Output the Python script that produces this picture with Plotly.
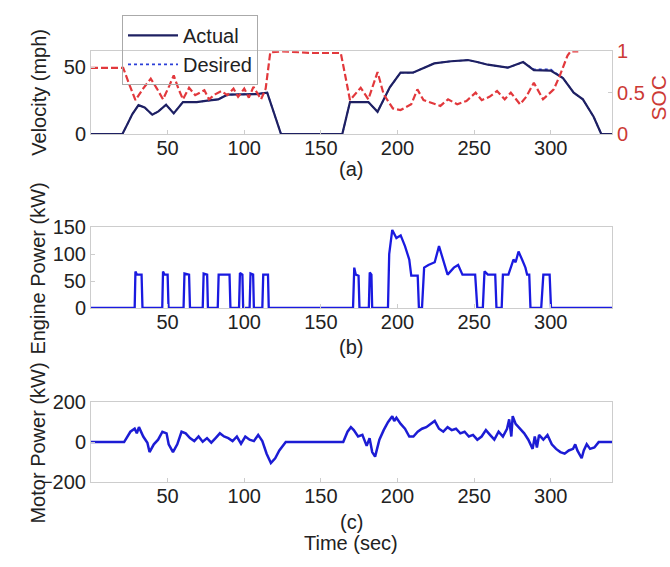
import plotly.graph_objects as go

# ---------------- data ----------------
vel_t = [0, 20.5, 24, 27, 31, 35, 40, 44, 49, 54, 60, 69, 76, 83, 89, 100, 108, 115, 124,
         164, 169, 181, 187, 195, 202, 210, 216, 224, 235, 246, 252, 259, 272, 282, 289,
         300, 308, 315, 321, 328, 333, 340]
vel_actual = [0, 0, 8, 15, 21.7, 20, 14.5, 17, 22, 15.5, 24, 24, 25, 26, 29.5, 29.5, 30, 31, 0,
              0, 24, 24, 16.7, 35, 46, 46, 49, 53, 54.6, 55.5, 54, 52, 49.8, 54, 48,
              47.6, 42, 31, 26, 13, 0, 0]
vel_desired = [0, 0, 8, 15, 21.7, 20, 14.5, 17, 22, 15.5, 24, 24, 25, 26, 29.5, 29.5, 30, 31, 0,
               0, 24, 24, 16.7, 35, 46, 46, 49, 53, 54.6, 55.5, 54, 52, 49.8, 54, 48.5,
               48.5, 42, 31, 26, 13, 0, 0]

soc_t = [0, 21, 25, 29, 34, 39, 43, 47, 51, 54, 57, 60, 64, 68, 74, 77, 81, 85, 89, 93, 96,
         100, 103, 106, 111, 114, 117, 125, 145, 163, 166, 169, 176, 181, 187, 191, 197,
         202, 209, 213, 217, 224, 228, 233, 239, 245, 251, 255, 260, 265, 270, 274, 280,
         284, 289, 295, 302, 306, 311, 313, 318]
soc = [0.8, 0.8, 0.6, 0.41, 0.55, 0.67, 0.55, 0.42, 0.58, 0.71, 0.55, 0.42, 0.56, 0.47, 0.53,
       0.42, 0.48, 0.52, 0.47, 0.55, 0.45, 0.55, 0.44, 0.57, 0.42, 0.55, 0.99, 1.0, 0.98, 0.98,
       0.7, 0.41, 0.56, 0.42, 0.75, 0.48, 0.31, 0.29, 0.36, 0.54, 0.41, 0.36, 0.34, 0.42,
       0.36, 0.4, 0.5, 0.41, 0.45, 0.52, 0.42, 0.5, 0.36, 0.45, 0.62, 0.42, 0.54, 0.71,
       0.95, 1.0, 1.0]

eng_t = [0, 28.5, 29, 30, 33, 33.6,
         46.5, 47, 48, 50, 50.6,
         60.4, 61, 64, 64.6,
         72.9, 73.5, 75.8, 76.3,
         82.7, 83.3, 90.4, 91,
         96.6, 97.2, 98.8, 99.3,
         103.5, 104.1, 105.8, 106.3,
         111.8, 112.4, 115.5, 116,
         171, 171.8, 172.8, 174.6, 175.2,
         181.3, 181.9, 183, 183.5,
         193.8, 194.6, 196.6, 199.3, 202.1, 204.9, 207.7, 209, 213.2, 214, 216, 217.4,
         220.2, 224.3, 227.1, 229.9, 232.7, 236.8, 239.6, 242.4, 250.7, 252.1, 255.7,
         256.8, 259, 263.8, 264.6, 268, 268.8, 272.4, 275.7, 277.1, 279, 281.3, 283.5,
         284.6, 286, 286.8, 293.8, 295.2, 299.3, 300.2, 340]
eng_p = [0, 0, 68, 62, 62, 0,
         0, 68, 62, 62, 0,
         0, 64, 62, 0,
         0, 64, 62, 0,
         0, 62, 62, 0,
         0, 65, 62, 0,
         0, 64, 62, 0,
         0, 62, 62, 0,
         0, 75, 62, 60, 0,
         0, 66, 62, 0,
         0, 100, 145, 130, 135, 115, 90, 60, 60, 0, 0, 75,
         80, 85, 115, 90, 62, 75, 80, 62, 62, 0, 0,
         68, 62, 62, 0, 0, 62, 62, 90, 85, 105, 90, 75,
         62, 62, 0, 0, 62, 62, 0, 0]

mot_t = [0, 21.6, 25.7, 28.5, 29.9, 31.3, 34.1, 36.8, 38.2, 41, 43.8, 46.6, 49.3, 50.7, 53.5,
         56.3, 59.1, 61.8, 64.6, 67.4, 70.2, 72.9, 75.7, 78.5, 81.3, 84.1, 86.8, 89.6, 92.4,
         95.2, 97.9, 100.7, 103.5, 106.3, 109.1, 111.8, 114.6, 117.4, 120.2, 122.9, 127.1,
         164.6, 167.4, 169.6, 171.5, 174.3, 177.1, 179.9, 181.8, 183.5, 185.4, 186.8, 188.2,
         191, 193.8, 196.6, 197.9, 199.3, 202.1, 204.9, 207.7, 210.4, 213.2, 216, 218.8,
         221.6, 224.3, 227.1, 229.9, 232.7, 235.4, 238.2, 241, 243.8, 246.6, 249.3, 252.1,
         254.9, 257.7, 260.4, 263.2, 266, 268.8, 271.5, 272.9, 274.3, 275.2, 277.1, 279.9,
         282.7, 285.4, 288.2, 289.6, 291, 292.4, 295.2, 297.9, 300.7, 303.5, 306.3, 309.1,
         311.8, 314.6, 316, 317.4, 320.2, 321.6, 323.5, 325.7, 328.5, 331.3, 340]
mot_p = [0, 0, 52, 67, 44, 75, 28, -3, -50, -11, 12, 52, 44, -11, -50,
         -11, 52, 44, 20, 5, 28, 2, 20, -3, 20, 44, 28, 20, 5,
         28, -8, 28, 12, 5, 36, 5, -58, -105, -81, -42, 0,
         0, 52, 75, 60, 28, 36, -19, 20, -50, -73, -34, 12,
         60, 100, 130, 106, 122, 91, 67, 28, 28, 52, 67, 75,
         91, 106, 67, 52, 75, 60, 67, 44, 52, 28, 36, 12,
         28, 60, 36, 12, 52, 28, 67, 114, 28, 130, 91, 67,
         44, 12, -34, 28, -27, 36, 12, 36, -11, -34, -50, -58,
         -42, -34, -11, -42, -81, -42, -11, -34, -27, 0, 0]

x_ticks = [50, 100, 150, 200, 250, 300]

# ---------------- figure ----------------
W, H = 670, 567
FONT = "Liberation Sans, Arial, Helvetica, sans-serif"
RED = "#cc3a35"
AXC = "#cdcdcd"

def py(px):
    return 1 - px / H

xdom = [91 / W, 612 / W]

fig = go.Figure()
fig.add_trace(go.Scatter(x=vel_t, y=vel_desired, mode="lines", name="Desired",
                         line=dict(color="#2b3fd8", width=1.6, dash="dot"),
                         xaxis="x", yaxis="y", legendgroup="b", legendrank=2))
fig.add_trace(go.Scatter(x=vel_t, y=vel_actual, mode="lines", name="Actual",
                         line=dict(color="#1e2062", width=2.2),
                         xaxis="x", yaxis="y", legendgroup="a", legendrank=1))
fig.add_trace(go.Scatter(x=soc_t, y=soc, mode="lines", name="SOC", showlegend=False,
                         line=dict(color="#e2383c", width=2.2, dash="7px,3px"),
                         xaxis="x", yaxis="y2"))
fig.add_trace(go.Scatter(x=eng_t, y=eng_p, mode="lines", showlegend=False,
                         line=dict(color="#1a1ae0", width=2.3),
                         xaxis="x2", yaxis="y3"))
fig.add_trace(go.Scatter(x=mot_t, y=mot_p, mode="lines", showlegend=False,
                         line=dict(color="#1c1cd4", width=2.5),
                         xaxis="x3", yaxis="y4"))

xcommon = dict(range=[0, 340], tickvals=x_ticks, ticks="inside", ticklen=4,
               tickcolor=AXC, showline=True, linecolor=AXC, linewidth=1, mirror=True,
               showgrid=False, zeroline=False, domain=xdom, ticklabelstandoff=-4,
               tickfont=dict(family=FONT, size=20, color="#222"))
ycommon = dict(ticks="inside", ticklen=4, tickcolor=AXC, showline=True, linecolor=AXC,
               linewidth=1, mirror=True, showgrid=False, zeroline=False,
               tickfont=dict(family=FONT, size=20, color="#222"))

fig.update_layout(
    width=W, height=H, margin=dict(l=0, r=0, t=0, b=0),
    paper_bgcolor="white", plot_bgcolor="white",
    font=dict(family=FONT, size=20, color="#222"),
    xaxis=dict(xcommon, anchor="y"),
    xaxis2=dict(xcommon, anchor="y3"),
    xaxis3=dict(xcommon, anchor="y4"),
    yaxis=dict(ycommon, range=[0, 62], tickvals=[0, 50], mirror=False,
               domain=[py(128), py(42)], anchor="x"),
    yaxis2=dict(range=[0, 1], tickvals=[0, 0.5, 1], ticktext=["0", "0.5", "1"],
                overlaying="y", side="right", anchor="x", showgrid=False, zeroline=False,
                showline=True, linecolor=AXC, ticks="inside", ticklen=4, tickcolor=AXC,
                tickfont=dict(family=FONT, size=20, color=RED)),
    yaxis3=dict(ycommon, range=[0, 150], tickvals=[0, 50, 100, 150],
                domain=[py(309), py(225)], anchor="x2"),
    yaxis4=dict(ycommon, range=[-200, 200], tickvals=[-200, 0, 200],
                domain=[py(490), py(407)], anchor="x3"),
    legend=dict(x=122 / W, y=py(4), xanchor="left", yanchor="top",
                bgcolor="rgba(255,255,255,0)", bordercolor="#aaaaaa", borderwidth=1,
                font=dict(family=FONT, size=20, color="#222"),
                tracegroupgap=4, itemwidth=50, traceorder="normal"),
    showlegend=True,
)

cx = (91 + 612) / 2 / W
ann = [
    dict(text="(a)", x=cx, y=py(164)),
    dict(text="(b)", x=cx, y=py(350)),
    dict(text="(c)", x=cx, y=py(532)),
    dict(text="Time (sec)", x=cx, y=py(553)),
    dict(text="Velocity (mph)", x=39 / W, y=py(85), textangle=-90),
    dict(text="Engine Power (kW)", x=38 / W, y=py(268), textangle=-90),
    dict(text="Motor Power (kW)", x=38 / W, y=py(450), textangle=-90),
    dict(text="SOC", x=659 / W, y=py(90), textangle=-90, font=dict(family=FONT, size=21, color=RED)),
]
for a in ann:
    a.setdefault("font", dict(family=FONT, size=20, color="#222"))
    fig.add_annotation(xref="paper", yref="paper", showarrow=False,
                       xanchor="center", yanchor="middle", **a)

fig.write_html("out.html")
